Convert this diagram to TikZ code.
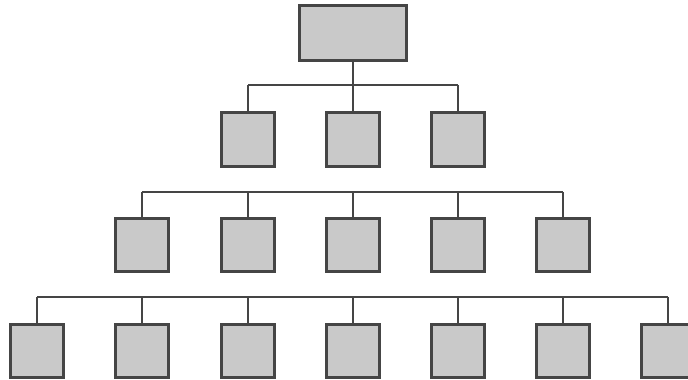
\documentclass[tikz,border=0pt]{standalone}
\usetikzlibrary{positioning}

\definecolor{boxfill}{HTML}{C9C9C9}
\definecolor{boxline}{HTML}{454545}

\tikzset{
    unit/.style={draw=boxline, fill=boxfill, line width=1.6pt, minimum width=30pt, minimum height=30.5pt, inner sep=0pt},
    head/.style={unit, minimum width=60.5pt, minimum height=31.5pt},
    wire/.style={draw=boxline, line width=1.1pt}
}

\begin{document}
\begin{tikzpicture}[x=0.02cm, y=-0.02cm]
    \useasboundingbox (0,0) rectangle (688,379);

    % top
    \node[head] (root) at (353,33) {};
    \coordinate (busA) at (353,85);

    % second row
    \foreach \i/\x in {1/248, 2/353, 3/458}
        \node[unit] (m\i) at (\x,139.5) {};

    % third row
    \foreach \i/\x in {1/142, 2/248, 3/353, 4/458, 5/563}
        \node[unit] (r\i) at (\x,245) {};
    \coordinate (busB) at (0,192);

    % bottom row
    \foreach \i/\x in {1/37, 2/142, 3/248, 4/353, 5/458, 6/563, 7/668}
        \node[unit] (b\i) at (\x,351) {};
    \coordinate (busC) at (0,297);

    % connectors
    \draw[wire] (root.south) -- (busA);
    \draw[wire] (m1.north |- busA) -- (m3.north |- busA);
    \foreach \i in {1,2,3}
        \draw[wire] (m\i.north) -- (m\i.north |- busA);

    \draw[wire] (r1.north |- busB) -- (r5.north |- busB);
    \foreach \i in {1,...,5}
        \draw[wire] (r\i.north) -- (r\i.north |- busB);

    \draw[wire] (b1.north |- busC) -- (b7.north |- busC);
    \foreach \i in {1,...,7}
        \draw[wire] (b\i.north) -- (b\i.north |- busC);
\end{tikzpicture}
\end{document}
